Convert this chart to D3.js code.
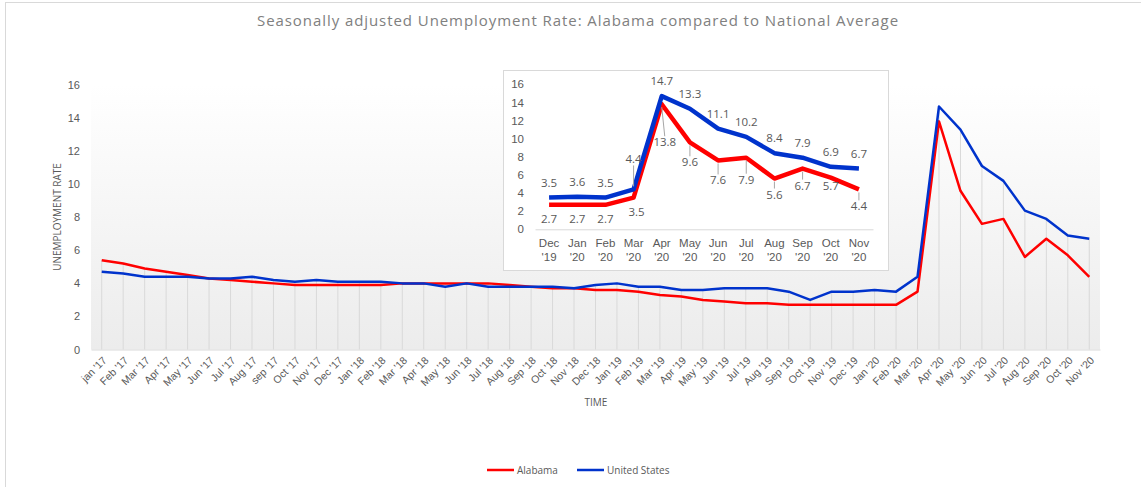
<!DOCTYPE html>
<meta charset="utf-8">
<style>
body { margin: 0; background: #fff; }
svg { display: block; font-family: "Open Sans", sans-serif; }
.title { font-size: 15px; fill: #808080; }
.axis text { font-size: 11px; fill: #595959; }
.axis path { stroke: #d9d9d9; }
.axis-title { font-size: 10px; fill: #595959; }
.drop { stroke: #d9d9d9; stroke-width: 1; }
.legend text { font-size: 10px; fill: #595959; }
.inset-label { font-size: 11.5px; fill: #595959; }
.leader { stroke: #a6a6a6; stroke-width: 1; }
</style>
<svg width="1141" height="487"></svg>

<script src="https://cdn.jsdelivr.net/npm/d3@7"></script>
<script>

var months = ["jan '17","Feb '17","Mar '17","Apr '17","May '17","Jun '17","Jul '17","Aug '17","sep '17","Oct '17","Nov '17","Dec '17",
              "Jan '18","Feb '18","Mar '18","Apr '18","May '18","Jun '18","Jul '18","Aug '18","Sep '18","Oct '18","Nov '18","Dec '18",
              "Jan '19","Feb '19","Mar '19","Apr '19","May '19","Jun '19","Jul '19","Aug '19","Sep '19","Oct '19","Nov '19","Dec '19",
              "Jan '20","Feb '20","Mar '20","Apr '20","May '20","Jun '20","Jul '20","Aug '20","Sep '20","Oct '20","Nov '20"];

var alabama = [5.4,5.2,4.9,4.7,4.5,4.3,4.2,4.1,4.0,3.9,3.9,3.9,
               3.9,3.9,4.0,4.0,4.0,4.0,4.0,3.9,3.8,3.7,3.7,3.6,
               3.6,3.5,3.3,3.2,3.0,2.9,2.8,2.8,2.7,2.7,2.7,2.7,
               2.7,2.7,3.5,13.8,9.6,7.6,7.9,5.6,6.7,5.7,4.4];

var unitedStates = [4.7,4.6,4.4,4.4,4.4,4.3,4.3,4.4,4.2,4.1,4.2,4.1,
                    4.1,4.1,4.0,4.0,3.8,4.0,3.8,3.8,3.8,3.8,3.7,3.9,
                    4.0,3.8,3.8,3.6,3.6,3.7,3.7,3.7,3.5,3.0,3.5,3.5,
                    3.6,3.5,4.4,14.7,13.3,11.1,10.2,8.4,7.9,6.9,6.7];

var yTicks = [0,2,4,6,8,10,12,14,16];

// inset = last 12 months (Dec '19 .. Nov '20)
var insetMonths = months.slice(35),
    insetAlabama = alabama.slice(35),
    insetUS = unitedStates.slice(35);

// label nudges for the inset (pixels from the point, styling only)
var usLabelDy = [-15,-15,-15,-30,-15,-15,-15,-15,-15,-15,-15,-15];
var alLabelDy = [14,14,14,14,38,20,20,22,16,17,8,17];
var alLabelDx = [0,0,0,3,3,0,0,0,0,0,0,0];

var RED = "#ff0000", BLUE = "#0033cc";

var svg = d3.select("svg");

// outer frame
svg.append("rect")
    .attr("x", 5.5).attr("y", 2.5)
    .attr("width", 1140).attr("height", 490)
    .attr("fill", "none").attr("stroke", "#d9d9d9");

// title, stretched to the original width
var title = svg.append("text")
    .attr("class", "title")
    .attr("x", 578).attr("y", 26)
    .attr("text-anchor", "middle")
    .text("Seasonally adjusted Unemployment Rate: Alabama compared to National Average");
var tw = title.node().getComputedTextLength();
var nChars = title.text().length;
title.style("letter-spacing", ((642 - tw) / nChars) + "px");

// ---- main chart ----
var plotLeft = 91, plotRight = 1100, plotTop = 85, plotBottom = 349.5;

var x = d3.scaleBand().domain(months).range([plotLeft, plotRight]).padding(0);
var y = d3.scaleLinear().domain([0, 16]).range([plotBottom, plotTop]);
var cx = function(m) { return x(m) + x.bandwidth() / 2; };

var grad = svg.append("defs").append("linearGradient")
    .attr("id", "bg").attr("x1", 0).attr("y1", 0).attr("x2", 0).attr("y2", 1);
grad.append("stop").attr("offset", "0%").attr("stop-color", "#ffffff");
grad.append("stop").attr("offset", "100%").attr("stop-color", "#ececec");

svg.append("rect")
    .attr("x", plotLeft).attr("y", plotTop)
    .attr("width", plotRight - plotLeft).attr("height", plotBottom - plotTop)
    .attr("fill", "url(#bg)");

// drop lines
svg.append("g").selectAll("line")
    .data(months)
  .enter().append("line")
    .attr("class", "drop")
    .attr("x1", function(d) { return cx(d); })
    .attr("x2", function(d) { return cx(d); })
    .attr("y1", function(d, i) { return y(Math.max(alabama[i], unitedStates[i])); })
    .attr("y2", plotBottom);

// y axis
var yAxis = svg.append("g")
    .attr("class", "axis")
    .attr("transform", "translate(" + plotLeft + ",0)")
    .call(d3.axisLeft(y).tickValues(yTicks).tickSize(0).tickPadding(11));
yAxis.select(".domain").remove();

// x axis
var xAxis = svg.append("g")
    .attr("class", "axis")
    .attr("transform", "translate(0," + plotBottom + ")")
    .call(d3.axisBottom(x).tickSize(0));
xAxis.selectAll("text")
    .style("font-size", "10.5px")
    .attr("x", 0).attr("y", 0).attr("dy", "0.35em")
    .attr("text-anchor", "end")
    .attr("transform", "translate(3,9) rotate(-45)");

svg.append("text")
    .attr("class", "axis-title")
    .attr("transform", "translate(61,217) rotate(-90)")
    .attr("text-anchor", "middle")
    .text("UNEMPLOYMENT RATE");

svg.append("text")
    .attr("class", "axis-title")
    .attr("x", 596).attr("y", 406)
    .attr("text-anchor", "middle")
    .text("TIME");

var line = d3.line()
    .x(function(d, i) { return cx(months[i]); })
    .y(function(d) { return y(d); });

svg.append("path").datum(alabama)
    .attr("fill", "none").attr("stroke", RED).attr("stroke-width", 2.5)
    .attr("stroke-linejoin", "round")
    .attr("d", line);
svg.append("path").datum(unitedStates)
    .attr("fill", "none").attr("stroke", BLUE).attr("stroke-width", 2.5)
    .attr("stroke-linejoin", "round")
    .attr("d", line);

// ---- inset ----
var ix = d3.scaleBand().domain(insetMonths).range([535, 873]).padding(0);
var iy = d3.scaleLinear().domain([0, 16]).range([229.3, 84.3]);
var icx = function(m) { return ix(m) + ix.bandwidth() / 2; };

svg.append("rect")
    .attr("x", 503.5).attr("y", 70.5)
    .attr("width", 385).attr("height", 200)
    .attr("fill", "#fff").attr("stroke", "#d9d9d9");

var iyAxis = svg.append("g")
    .attr("class", "axis")
    .attr("transform", "translate(535,0)")
    .call(d3.axisLeft(iy).tickValues(yTicks).tickSize(0).tickPadding(11));
iyAxis.select(".domain").remove();
iyAxis.selectAll("text").style("font-size", "11.5px");

var ixAxis = svg.append("g")
    .attr("class", "axis")
    .attr("transform", "translate(0,229.3)")
    .call(d3.axisBottom(ix).tickSize(0));
ixAxis.selectAll("text").each(function(d) {
  var parts = d.split(" ");
  var t = d3.select(this).text(null).attr("y", 0).attr("dy", null).style("font-size", "11.5px");
  t.append("tspan").attr("x", 0).attr("y", 18).text(parts[0]);
  t.append("tspan").attr("x", 0).attr("y", 32).text(parts[1]);
});

var iline = d3.line()
    .x(function(d, i) { return icx(insetMonths[i]); })
    .y(function(d) { return iy(d); });

svg.append("path").datum(insetAlabama)
    .attr("fill", "none").attr("stroke", RED).attr("stroke-width", 4.5)
    .attr("stroke-linejoin", "round")
    .attr("d", iline);
svg.append("path").datum(insetUS)
    .attr("fill", "none").attr("stroke", BLUE).attr("stroke-width", 4.5)
    .attr("stroke-linejoin", "round")
    .attr("d", iline);

function addLabels(values, dys, dxs) {
  var g = svg.append("g");
  values.forEach(function(v, i) {
    var px = icx(insetMonths[i]), py = iy(v);
    var lx = px + (dxs ? dxs[i] : 0), ly = py + dys[i];
    var dir = dys[i] < 0 ? -1 : 1;
    var y1 = py + dir * 3, y2 = ly - dir * 6;
    if ((y2 - y1) * dir > 6) {
      g.append("line").attr("class", "leader")
        .attr("x1", px).attr("y1", y1)
        .attr("x2", lx).attr("y2", y2);
    }
    g.append("text").attr("class", "inset-label")
      .attr("x", lx).attr("y", ly).attr("dy", "0.35em")
      .attr("text-anchor", "middle")
      .text(d3.format(".1f")(v));
  });
}
addLabels(insetUS, usLabelDy);
addLabels(insetAlabama, alLabelDy, alLabelDx);

// ---- legend ----
var legend = svg.append("g").attr("class", "legend");
var items = [{name: "Alabama", color: RED, x: 487}, {name: "United States", color: BLUE, x: 577}];
items.forEach(function(it) {
  legend.append("line")
    .attr("x1", it.x).attr("x2", it.x + 27)
    .attr("y1", 470).attr("y2", 470)
    .attr("stroke", it.color).attr("stroke-width", 2.5);
  legend.append("text")
    .attr("x", it.x + 30).attr("y", 470).attr("dy", "0.35em")
    .text(it.name);
});

</script>
